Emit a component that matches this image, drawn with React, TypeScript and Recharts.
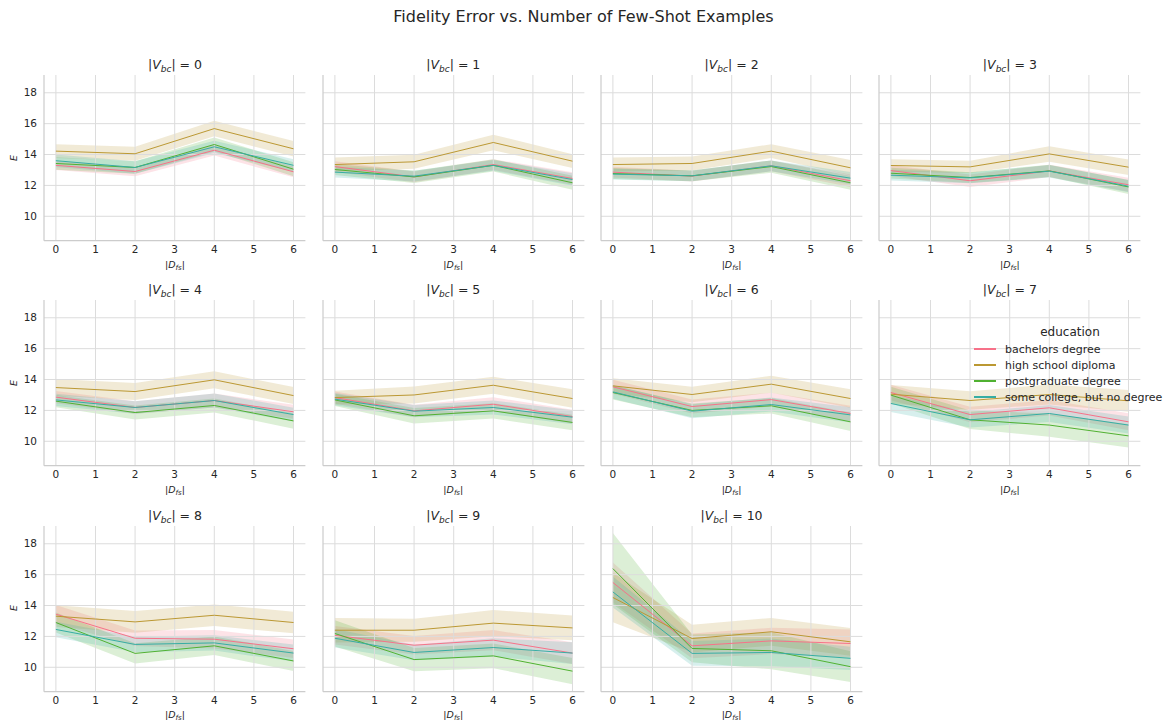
import React from 'react'
import { ComposedChart, Line, Area, XAxis, YAxis, ReferenceLine } from 'recharts'

const shots = [0, 2, 4, 6]
const xTicks = [0, 1, 2, 3, 4, 5, 6]
const yTicks = [10, 12, 14, 16, 18]
const vbc = [0, 1, 2, 3, 4, 5, 6, 7, 8, 9, 10]
const groups = ['bachelors degree', 'high school diploma', 'postgraduate degree', 'some college, but no degree']
const colors = ['#f77189', '#bb9832', '#50b131', '#36ada4']

// mean E per panel (|V_bc| = 0..10), at |D_fs| = 0, 2, 4, 6
const bachelorsMean = [
  [13.3, 12.9, 14.28, 12.88], [13.22, 12.55, 13.35, 12.45], [12.86, 12.6, 13.27, 12.3], [12.96, 12.3, 12.94, 12.04],
  [12.86, 12.19, 12.64, 11.91], [12.83, 11.97, 12.4, 11.6], [13.53, 12.25, 12.7, 11.8], [13.16, 11.73, 12.17, 11.26],
  [13.44, 11.88, 11.82, 11.2], [12.07, 11.43, 11.76, 10.92], [15.49, 11.39, 11.71, 11.54],
]
const highSchoolMean = [
  [14.22, 14.05, 15.68, 14.37], [13.35, 13.53, 14.78, 13.57], [13.35, 13.42, 14.22, 13.14], [13.29, 13.2, 14.04, 13.18],
  [13.48, 13.22, 13.98, 12.96], [12.83, 13.0, 13.63, 12.77], [13.59, 13.03, 13.7, 12.77], [13.05, 12.64, 13.03, 12.62],
  [13.31, 12.94, 13.37, 12.9], [12.4, 12.4, 12.86, 12.55], [14.52, 11.86, 12.3, 11.65],
]
const postgradMean = [
  [13.42, 13.16, 14.65, 13.05], [13.03, 12.55, 13.3, 12.17], [12.77, 12.62, 13.22, 12.17], [12.79, 12.51, 12.94, 11.9],
  [12.6, 11.86, 12.32, 11.32], [12.68, 11.65, 11.97, 11.22], [13.16, 12.0, 12.3, 11.26], [12.99, 11.39, 11.05, 10.35],
  [12.9, 10.9, 11.39, 10.41], [12.19, 10.5, 10.74, 9.75], [16.39, 11.22, 11.07, 10.04],
]
const someCollegeMean = [
  [13.6, 13.16, 14.5, 13.3], [12.86, 12.6, 13.3, 12.38], [12.73, 12.62, 13.27, 12.47], [12.66, 12.49, 12.92, 11.95],
  [12.68, 12.19, 12.64, 11.73], [12.73, 11.95, 12.19, 11.56], [13.2, 11.95, 12.38, 11.71], [12.45, 11.39, 11.8, 11.05],
  [12.45, 11.48, 11.58, 10.92], [11.88, 10.96, 11.28, 10.92], [14.88, 10.9, 10.96, 10.58],
]

// half width of the confidence band
const bachelorsCi = [
  [0.3, 0.3, 0.35, 0.35], [0.35, 0.35, 0.35, 0.4], [0.35, 0.35, 0.35, 0.4], [0.35, 0.4, 0.4, 0.45],
  [0.4, 0.4, 0.45, 0.45], [0.4, 0.4, 0.45, 0.45], [0.45, 0.45, 0.45, 0.5], [0.5, 0.5, 0.5, 0.55],
  [0.6, 0.5, 0.6, 0.6], [0.6, 0.6, 0.65, 0.7], [1.3, 0.8, 0.85, 0.9],
]
const highSchoolCi = [
  [0.45, 0.45, 0.5, 0.5], [0.45, 0.45, 0.5, 0.45], [0.45, 0.45, 0.45, 0.5], [0.4, 0.4, 0.5, 0.5],
  [0.55, 0.55, 0.55, 0.55], [0.45, 0.55, 0.55, 0.6], [0.5, 0.5, 0.55, 0.6], [0.6, 0.6, 0.65, 0.7],
  [0.7, 0.7, 0.7, 0.7], [0.8, 0.75, 0.85, 0.8], [1.6, 0.9, 0.9, 0.9],
]
const postgradCi = [
  [0.4, 0.4, 0.45, 0.45], [0.35, 0.4, 0.4, 0.45], [0.35, 0.35, 0.4, 0.45], [0.35, 0.35, 0.4, 0.45],
  [0.4, 0.45, 0.45, 0.5], [0.4, 0.5, 0.5, 0.5], [0.45, 0.45, 0.5, 0.6], [0.55, 0.6, 0.75, 0.75],
  [0.65, 0.65, 0.6, 0.65], [0.85, 0.75, 0.8, 0.85], [2.3, 0.9, 1.2, 1.0],
]
const someCollegeCi = [
  [0.4, 0.4, 0.4, 0.4], [0.35, 0.35, 0.35, 0.4], [0.35, 0.35, 0.35, 0.4], [0.35, 0.35, 0.4, 0.4],
  [0.4, 0.4, 0.45, 0.45], [0.4, 0.4, 0.45, 0.45], [0.45, 0.45, 0.45, 0.5], [0.55, 0.5, 0.55, 0.55],
  [0.5, 0.5, 0.5, 0.55], [0.6, 0.5, 0.6, 0.7], [1.0, 0.8, 0.9, 0.75],
]

const means = [bachelorsMean, highSchoolMean, postgradMean, someCollegeMean]
const cis = [bachelorsCi, highSchoolCi, postgradCi, someCollegeCi]

const FONT = '"DejaVu Sans", sans-serif'
const INK = '#262626'
const GRID = '#dcdcdc'
const PLOT_W = 261.4
const PLOT_H = 165.7
const COL_X = [44.3, 322.6, 600.9, 879.2]
const ROW_Y = [75, 300.4, 525.6]
const ML = 14
const YW = 30
const MT = 10

function panelData(p: number) {
  return shots.map((x, i) => {
    const row: Record<string, number | number[]> = { x }
    means.forEach((m, g) => {
      row[`m${g}`] = m[p][i]
      row[`b${g}`] = [m[p][i] - cis[g][p][i], m[p][i] + cis[g][p][i]]
    })
    return row
  })
}

function Panel({ p }: { p: number }) {
  const col = p % 4
  const row = Math.floor(p / 4)
  const left = COL_X[col]
  const top = ROW_Y[row]
  return (
    <>
      <div style={{ position: 'absolute', left: left - ML - YW, top: top - MT }}>
        <ComposedChart
          width={ML + YW + PLOT_W + 6}
          height={MT + PLOT_H + 30}
          data={panelData(p)}
          margin={{ top: MT, right: 6, bottom: 0, left: ML }}
        >
          <XAxis
            dataKey="x"
            type="number"
            domain={[-0.3, 6.3]}
            ticks={xTicks}
            height={30}
            tickSize={0}
            tickMargin={5}
            tickLine={false}
            axisLine={{ stroke: '#cccccc', strokeWidth: 1.2 }}
            tick={{ fontSize: 10.5, fill: INK, fontFamily: FONT }}
            allowDataOverflow
          />
          <YAxis
            type="number"
            domain={[8.42, 19.15]}
            ticks={yTicks}
            width={YW}
            tickSize={0}
            tickMargin={7}
            tickLine={false}
            axisLine={{ stroke: '#cccccc', strokeWidth: 1.2 }}
            tick={col === 0 ? { fontSize: 10.5, fill: INK, fontFamily: FONT } : false}
            allowDataOverflow
          />
          {xTicks.map((t) => (
            <ReferenceLine key={`vx${t}`} x={t} stroke={GRID} strokeWidth={1} />
          ))}
          {yTicks.map((t) => (
            <ReferenceLine key={`hy${t}`} y={t} stroke={GRID} strokeWidth={1} />
          ))}
          {groups.map((g, i) => (
            <Area
              key={`a${g}`}
              type="linear"
              dataKey={`b${i}`}
              stroke="none"
              fill={colors[i]}
              fillOpacity={0.2}
              isAnimationActive={false}
            />
          ))}
          {groups.map((g, i) => (
            <Line
              key={`l${g}`}
              type="linear"
              dataKey={`m${i}`}
              stroke={colors[i]}
              strokeWidth={1}
              dot={false}
              isAnimationActive={false}
            />
          ))}
        </ComposedChart>
      </div>
      <div
        style={{
          position: 'absolute', left, top: top - 17, width: PLOT_W, textAlign: 'center',
          fontSize: 12.5, color: INK, fontFamily: FONT, lineHeight: '14px', whiteSpace: 'nowrap',
        }}
      >
        |<i>V</i><sub style={{ fontSize: 9, fontStyle: 'italic', verticalAlign: '-3px' }}>bc</sub>| = {vbc[p]}
      </div>
      <div
        style={{
          position: 'absolute', left, top: top + PLOT_H + 18, width: PLOT_W, textAlign: 'center',
          fontSize: 9.5, color: INK, fontFamily: FONT, lineHeight: '12px', whiteSpace: 'nowrap',
        }}
      >
        |<i>D</i><sub style={{ fontSize: 7, fontStyle: 'italic', verticalAlign: '-2px' }}>fs</sub>|
      </div>
      {col === 0 && (
        <div
          style={{
            position: 'absolute', left: 8, top: top + PLOT_H / 2 - 6, width: 12, height: 12,
            fontSize: 9.5, color: INK, fontFamily: FONT, fontStyle: 'italic',
            transform: 'rotate(-90deg)', textAlign: 'center', lineHeight: '12px',
          }}
        >
          E
        </div>
      )}
    </>
  )
}

function Legend() {
  return (
    <div style={{ position: 'absolute', left: 972, top: 324, fontFamily: FONT, color: INK }}>
      <div style={{ fontSize: 12, width: 196, textAlign: 'center', lineHeight: '17px' }}>education</div>
      {groups.map((g, i) => (
        <div key={g} style={{ display: 'flex', alignItems: 'center', height: 16, fontSize: 11 }}>
          <div style={{ width: 22, height: 1.6, background: colors[i], marginLeft: 2, marginRight: 9 }} />
          <span style={{ whiteSpace: 'nowrap' }}>{g}</span>
        </div>
      ))}
    </div>
  )
}

export default function App() {
  return (
    <div style={{ position: 'absolute', left: 0, top: 0, width: 1167, height: 725, background: '#fff' }}>
      <div
        style={{
          position: 'absolute', left: 0, top: 7, width: 1167, textAlign: 'center',
          fontSize: 16, color: INK, fontFamily: FONT, lineHeight: '20px',
        }}
      >
        Fidelity Error vs. Number of Few-Shot Examples
      </div>
      {vbc.map((v, p) => (
        <Panel key={v} p={p} />
      ))}
      <Legend />
    </div>
  )
}
